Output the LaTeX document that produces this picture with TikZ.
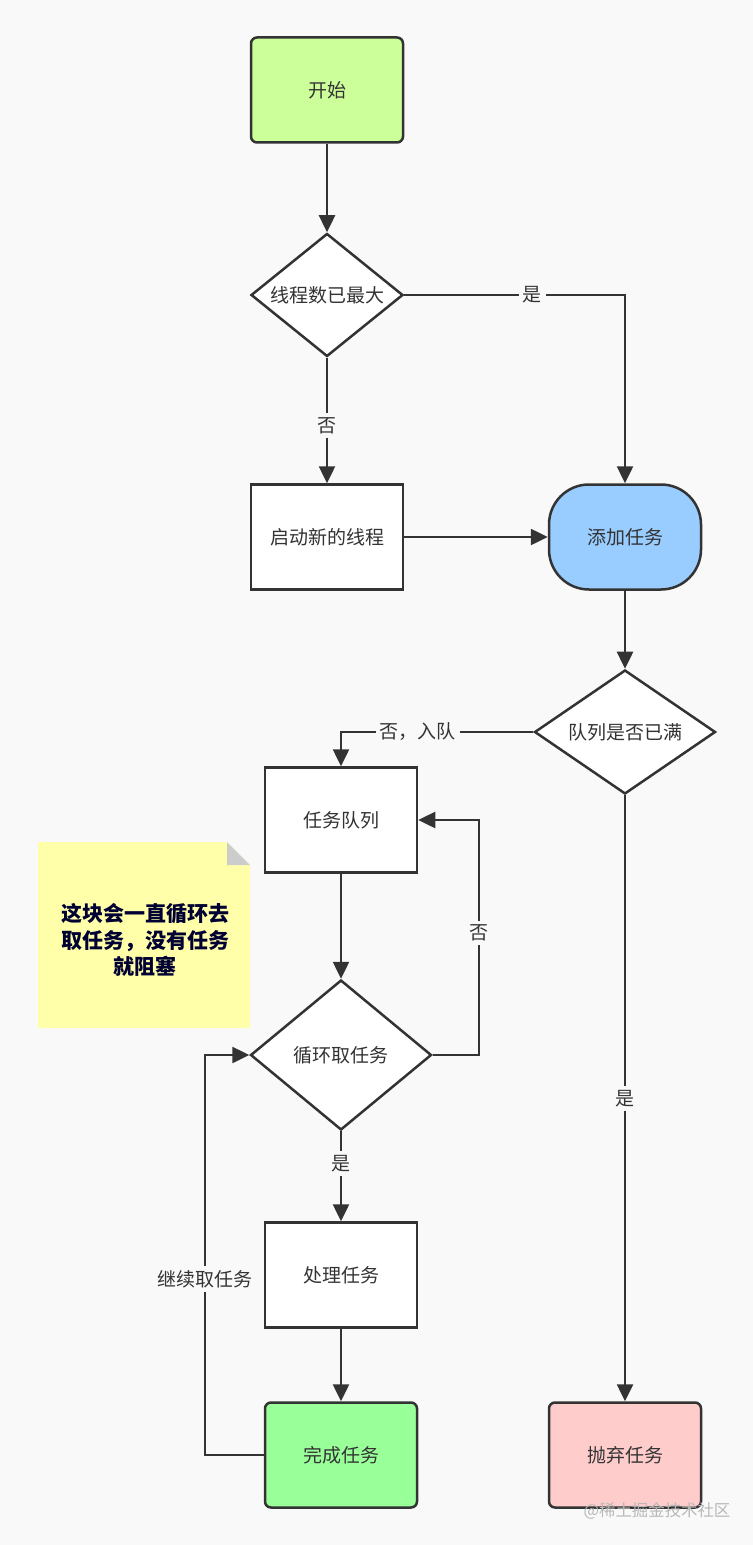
\documentclass[tikz,border=0pt]{standalone}
\usepackage{fontspec}
\setmainfont{Noto Sans CJK SC}
\usepackage{xcolor}
\definecolor{BgGray}{HTML}{F9F9F9}
\definecolor{LineGray}{HTML}{333333}
\definecolor{TextGray}{HTML}{333333}
\definecolor{StartGreen}{HTML}{CCFF99}
\definecolor{TaskBlue}{HTML}{99CCFF}
\definecolor{DoneGreen}{HTML}{99FF99}
\definecolor{DropRed}{HTML}{FFCCCC}
\definecolor{NoteYellow}{HTML}{FFFFAA}
\definecolor{FoldGray}{HTML}{CCCCCC}
\definecolor{NoteInk}{HTML}{000033}
\definecolor{MarkGray}{HTML}{B8B8B8}
\usepackage{tikz}
\usetikzlibrary{arrows.meta, shapes.geometric, positioning}

\begin{document}
\begin{tikzpicture}[x=0.5pt, y=-0.5pt,
	every node/.style={font=\fontsize{9.5pt}{11pt}\selectfont, text=TextGray},
	box/.style={draw=LineGray, line width=1.25pt, fill=white, minimum width=76pt, minimum height=52.5pt},
	endbox/.style={box, rounded corners=3pt},
	decision/.style={diamond, draw=LineGray, line width=1.25pt, fill=white, inner sep=0pt},
	flow/.style={draw=LineGray, line width=1.25pt, -{Triangle[length=8.5pt, width=8pt]}},
	tag/.style={fill=BgGray, inner sep=2pt}]
			\fill[BgGray] (0, 0) rectangle (753, 1545);
			\node[endbox, fill=StartGreen] (start) at (327, 90) {开始};
			\node[decision, minimum width=76pt, minimum height=61.5pt, label=center:线程数已最大] (full) at (327, 295) {};
			\node[box] (spawn) at (327, 537) {启动新的线程};
			\node[box, fill=TaskBlue, rounded corners=20pt] (add) at (625, 537) {添加任务};
			\node[decision, minimum width=90.5pt, minimum height=62pt, label=center:队列是否已满] (qfull) at (625, 732) {};
			\node[box] (queue) at (341, 820) {任务队列};
			\node[decision, minimum width=90.5pt, minimum height=75pt, label=center:循环取任务] (take) at (341, 1055) {};
			\node[box] (handle) at (341, 1275) {处理任务};
			\node[endbox, fill=DoneGreen] (done) at (341, 1455) {完成任务};
			\node[endbox, fill=DropRed] (drop) at (625, 1455) {抛弃任务};
			\fill[NoteYellow] (38, 842) -- (227, 842) -- (250, 865) -- (250, 1028) -- (38, 1028) -- cycle;
			\fill[FoldGray] (227, 842) -- (227, 865) -- (250, 865) -- cycle;
			\node[font=\fontsize{10.5pt}{13.25pt}\selectfont\bfseries, text=NoteInk, align=center] (note) at (145, 940) {这块会一直循环去\\取任务，没有任务\\就阻塞};
			\node[font=\fontsize{8.2pt}{10pt}\selectfont, text=MarkGray] (mark) at (657, 1511) {@稀土掘金技术社区};
			\draw[flow] (start) -- (full);
			\draw[flow] (full.east) -| node[tag, pos=0.29] {是} (add.north);
			\draw[flow] (full) -- node[tag, pos=0.54] {否} (spawn);
			\draw[flow] (spawn) -- (add);
			\draw[flow] (add) -- (qfull);
			\draw[flow] (qfull.west) -| node[tag, pos=0.3] {否，入队} (queue.north);
			\draw[flow] (queue) -- (take);
			\draw[flow] (take.east) -- ++(46, 0) |- node[tag, pos=0.26] {否} (queue.east);
			\draw[flow] (take) -- node[tag, pos=0.36] {是} (handle);
			\draw[flow] (handle) -- (done);
			\draw[flow] (done.west) -- ++(-59, 0) |- node[tag, pos=0.22] {继续取任务} (take.west);
			\draw[flow] (qfull) -- node[tag] {是} (drop);
			\end{tikzpicture}
\end{document}
